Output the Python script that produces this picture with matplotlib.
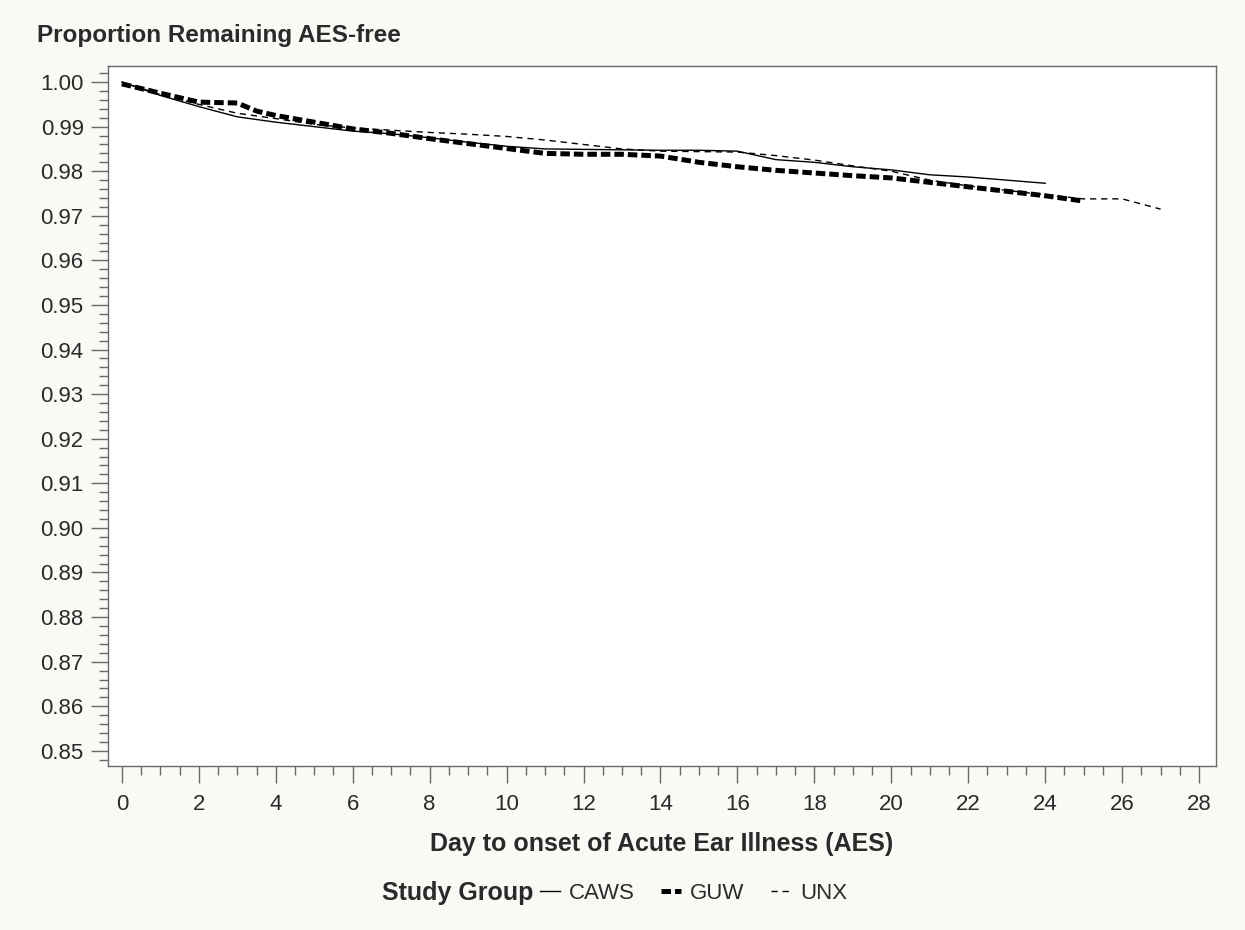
import matplotlib
matplotlib.use("Agg")
import matplotlib.pyplot as plt
from matplotlib.ticker import MultipleLocator, FormatStrFormatter
from matplotlib.lines import Line2D

plt.rcParams['font.family'] = ['Liberation Sans', 'DejaVu Sans']

# ---- data ----
caws_days = [0, 1, 2, 3, 4, 5, 6, 7, 8, 9, 10, 11, 12, 13, 14, 15, 16, 17, 18, 19, 20, 21, 22, 23, 24]
caws_vals = [1.000, 0.9970, 0.9945, 0.9922, 0.9910, 0.9900, 0.9890, 0.9884, 0.9875, 0.9865,
             0.9856, 0.9850, 0.9849, 0.9848, 0.9847, 0.9847, 0.9845, 0.9826, 0.9820, 0.9810,
             0.9803, 0.9792, 0.9787, 0.9780, 0.9773]

guw_days = [0, 1, 2, 3, 3.5, 4, 5, 6, 7, 8, 9, 10, 11, 12, 13, 14, 15, 16, 17, 18, 19, 20, 21, 22, 23, 24, 25]
guw_vals = [0.9996, 0.9975, 0.9955, 0.9953, 0.9935, 0.9925, 0.9910, 0.9895, 0.9885, 0.9873,
            0.9862, 0.9851, 0.9840, 0.9838, 0.9838, 0.9834, 0.9820, 0.9810, 0.9802, 0.9796,
            0.9790, 0.9785, 0.9775, 0.9765, 0.9755, 0.9745, 0.9733]

unx_days = [0, 1, 2, 3, 4, 5, 6, 7, 8, 9, 10, 11, 12, 13, 14, 15, 16, 17, 18, 19, 20, 21, 22, 23, 24, 25, 26, 27]
unx_vals = [1.000, 0.9972, 0.9950, 0.9930, 0.9918, 0.9905, 0.9897, 0.9892, 0.9887, 0.9883,
            0.9878, 0.9870, 0.9860, 0.9850, 0.9845, 0.9844, 0.9843, 0.9835, 0.9825, 0.9812,
            0.9800, 0.9780, 0.9767, 0.9757, 0.9747, 0.9738, 0.9738, 0.9715]

group_names = ["CAWS", "GUW", "UNX"]
y_ticks = [0.85, 0.86, 0.87, 0.88, 0.89, 0.90, 0.91, 0.92, 0.93, 0.94, 0.95, 0.96, 0.97, 0.98, 0.99, 1.00]
x_ticks = [0, 2, 4, 6, 8, 10, 12, 14, 16, 18, 20, 22, 24, 26, 28]

bg = '#fbf9f5'
txt = '#2a2a2a'
spine_c = '#6a6a6a'

fig = plt.figure(figsize=(12.45, 9.3), dpi=100, facecolor=bg)
ax = fig.add_axes([108/1245, 1 - 766/930, (1216-108)/1245, (766-66)/930])
ax.set_facecolor('white')

ax.plot(caws_days, caws_vals, color='black', lw=1.0, solid_joinstyle='round')
ax.plot(guw_days, guw_vals, color='black', lw=3.6, linestyle=(0, (1.9, 0.8)), dash_capstyle='butt')
ax.plot(unx_days, unx_vals, color='black', lw=1.0, linestyle=(0, (4.5, 3.5)))

ax.set_xlim(-0.36, 28.44)
ax.set_ylim(0.8466, 1.0036)

ax.set_yticks(y_ticks)
ax.yaxis.set_major_formatter(FormatStrFormatter('%.2f'))
ax.yaxis.set_minor_locator(MultipleLocator(0.002))
ax.set_xticks(x_ticks)
ax.xaxis.set_minor_locator(MultipleLocator(0.5))

ax.tick_params(axis='both', which='major', direction='out', length=12.5, width=1.0,
               color=spine_c, labelsize=16, labelcolor=txt)
ax.tick_params(axis='both', which='minor', direction='out', length=6.5, width=1.0, color=spine_c)
ax.tick_params(axis='y', which='major', pad=5)
ax.tick_params(axis='x', which='major', pad=8)

for s in ax.spines.values():
    s.set_color(spine_c)
    s.set_linewidth(1.0)

ax.set_xlabel('Day to onset of Acute Ear Illness (AES)', fontsize=18, fontweight='bold',
              color=txt, labelpad=12)

fig.text(37/1245, 1 - 42/930, 'Proportion Remaining AES-free', fontsize=17.5,
         fontweight='bold', color=txt, ha='left', va='baseline')

# legend
fig.text(533/1245, 1 - 893/930, 'Study Group', fontsize=18, fontweight='bold',
         color=txt, ha='right', va='center')
handles = [Line2D([], [], color='black', lw=1.0),
           Line2D([], [], color='black', lw=3.6, linestyle=(0, (1.9, 0.8))),
           Line2D([], [], color='black', lw=1.0, linestyle=(0, (4.5, 3.5)))]
leg = fig.legend(handles, group_names, loc='center left', bbox_to_anchor=(540/1245, 1 - 893/930),
                 ncol=3, frameon=False, fontsize=16, handlelength=0.9, handletextpad=0.4,
                 columnspacing=1.2, borderpad=0, borderaxespad=0)
for t in leg.get_texts():
    t.set_color(txt)

fig.savefig('out.png', dpi=100, facecolor=bg)
